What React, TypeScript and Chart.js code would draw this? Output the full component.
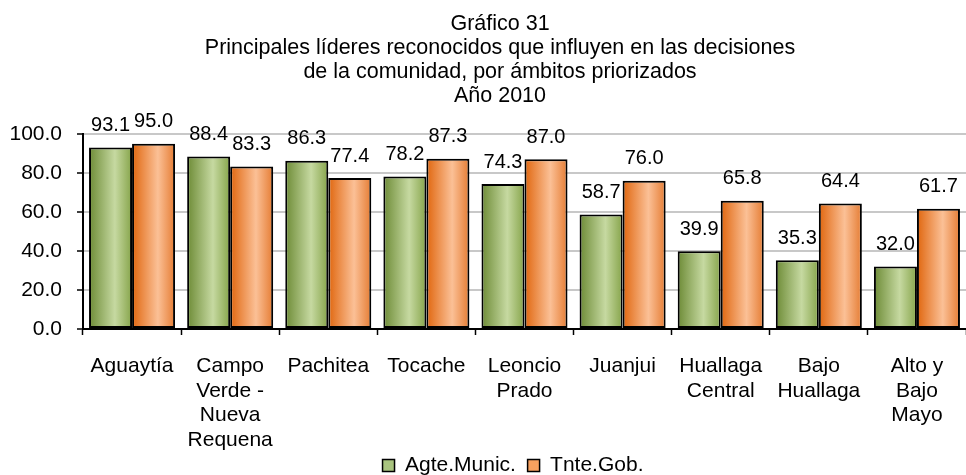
import React, { useEffect, useRef } from "react";
import { Chart, registerables } from "chart.js";

Chart.register(...registerables);

const titleLines = [
  "Gráfico 31",
  "Principales líderes reconocidos que influyen en las decisiones",
  "de la comunidad, por ámbitos priorizados",
  "Año 2010",
];

const categories: string[][] = [
  ["Aguaytía"],
  ["Campo", "Verde -", "Nueva", "Requena"],
  ["Pachitea"],
  ["Tocache"],
  ["Leoncio", "Prado"],
  ["Juanjui"],
  ["Huallaga", "Central"],
  ["Bajo", "Huallaga"],
  ["Alto y", "Bajo", "Mayo"],
];

const seriesNames = ["Agte.Munic.", "Tnte.Gob."];
const agteMunic = [93.1, 88.4, 86.3, 78.2, 74.3, 58.7, 39.9, 35.3, 32.0];
const tnteGob = [95.0, 83.3, 77.4, 87.3, 87.0, 76.0, 65.8, 64.4, 61.7];

const yTicks = [0, 20, 40, 60, 80, 100];

const FONT = "'Liberation Sans', Arial, sans-serif";
const CAT_PCT = 0.877;

const greenStops: [number, string][] = [
  [0, "#6d8b36"],
  [0.6, "#c6d9a1"],
  [1, "#86a44a"],
];
const orangeStops: [number, string][] = [
  [0, "#e0660e"],
  [0.6, "#fbc096"],
  [1, "#e57c33"],
];

function barGradient(sc: any, stops: [number, string][], solid: string) {
  const chart = sc.chart;
  if (sc.type !== "data") return solid;
  const xs = chart.scales && chart.scales.x;
  if (!xs || !xs.width) return solid;
  const n = categories.length;
  const cat = xs.width / n;
  const group = cat * CAT_PCT;
  const bw = group / 2;
  const center = xs.getPixelForValue(sc.dataIndex);
  const left = center - group / 2 + sc.datasetIndex * bw;
  if (!isFinite(left) || !isFinite(bw)) return solid;
  const g = chart.ctx.createLinearGradient(left, 0, left + bw, 0);
  stops.forEach(([o, c]) => g.addColorStop(o, c));
  return g;
}

const valueLabels = {
  id: "valueLabels",
  afterDatasetsDraw(chart: any) {
    const ctx = chart.ctx;
    ctx.save();
    ctx.font = `20px ${FONT}`;
    ctx.fillStyle = "#000";
    ctx.textAlign = "center";
    ctx.textBaseline = "middle";
    chart.data.datasets.forEach((ds: any, di: number) => {
      const meta = chart.getDatasetMeta(di);
      meta.data.forEach((el: any, i: number) => {
        ctx.fillText(Number(ds.data[i]).toFixed(1), el.x, el.y - 22);
      });
    });
    ctx.restore();
  },
};

// shift the title and legend blocks horizontally to match the original's placement
const blockNudge = {
  id: "blockNudge",
  afterLayout(chart: any) {
    if (chart.titleBlock) chart.titleBlock.left = 34;
    if (chart.legend) chart.legend.left = 60;
  },
};

export default function App() {
  const ref = useRef<HTMLCanvasElement | null>(null);

  useEffect(() => {
    if (!ref.current) return;
    Chart.defaults.font.family = FONT;
    Chart.defaults.color = "#000";
    const chart = new Chart(ref.current, {
      type: "bar",
      data: {
        labels: categories as any,
        datasets: [
          {
            label: seriesNames[0],
            data: agteMunic,
            backgroundColor: (c: any) => barGradient(c, greenStops, "#a9c47f"),
            borderColor: "#000",
            borderWidth: 2,
            borderSkipped: false,
            categoryPercentage: CAT_PCT,
            barPercentage: 1,
          },
          {
            label: seriesNames[1],
            data: tnteGob,
            backgroundColor: (c: any) => barGradient(c, orangeStops, "#f7a15f"),
            borderColor: "#000",
            borderWidth: 2,
            borderSkipped: false,
            categoryPercentage: CAT_PCT,
            barPercentage: 1,
          },
        ],
      },
      options: {
        responsive: true,
        maintainAspectRatio: false,
        animation: false,
        layout: { padding: { left: 0, right: 0, top: 0, bottom: -11 } },
        plugins: {
          tooltip: { enabled: false },
          title: {
            display: true,
            text: titleLines,
            color: "#000",
            font: { size: 21.5, weight: "normal", lineHeight: "24px" },
            padding: { top: 12, bottom: 26 },
          },
          legend: {
            display: true,
            position: "bottom",
            labels: {
              boxWidth: 12,
              boxHeight: 12,
              padding: 0,
              color: "#000",
              font: { size: 21 },
              generateLabels: () =>
                seriesNames.map((name, i) => ({
                  text: i < seriesNames.length - 1 ? name + "  " : name,
                  fillStyle: i === 0 ? "#a9c47f" : "#f7a15f",
                  strokeStyle: "#000",
                  lineWidth: 1.5,
                  hidden: false,
                  datasetIndex: i,
                })),
            },
          },
        },
        scales: {
          x: {
            offset: true,
            grid: {
              display: true,
              drawOnChartArea: false,
              drawTicks: true,
              tickLength: 6,
              tickColor: "#000",
              tickWidth: 1.5,
              offset: true,
            },
            border: { display: true, color: "#000", width: 2 },
            ticks: {
              color: "#000",
              font: { size: 21, lineHeight: "24.5px" },
              padding: 19,
              maxRotation: 0,
              minRotation: 0,
              autoSkip: false,
            },
            afterFit: (s: any) => {
              s.height = 126;
              s.paddingLeft = 0;
              s.paddingRight = 0;
            },
          },
          y: {
            min: 0,
            max: 100,
            afterBuildTicks: (s: any) => {
              s.ticks = yTicks.map((v) => ({ value: v }));
            },
            grid: {
              color: "#c8c8c8",
              lineWidth: 2,
              tickLength: 6,
              tickColor: "#000",
              tickWidth: 1.5,
            },
            border: { display: true, color: "#000", width: 2 },
            ticks: {
              color: "#000",
              font: { size: 21 },
              padding: 15,
              callback: (v: any) => Number(v).toFixed(1),
            },
            afterFit: (s: any) => {
              s.width = 83;
            },
          },
        },
      },
      plugins: [valueLabels, blockNudge],
    });
    return () => chart.destroy();
  }, []);

  return (
    <div style={{ position: "absolute", left: 0, top: 0, width: 966, height: 475, background: "#fff" }}>
      <canvas ref={ref} />
    </div>
  );
}
